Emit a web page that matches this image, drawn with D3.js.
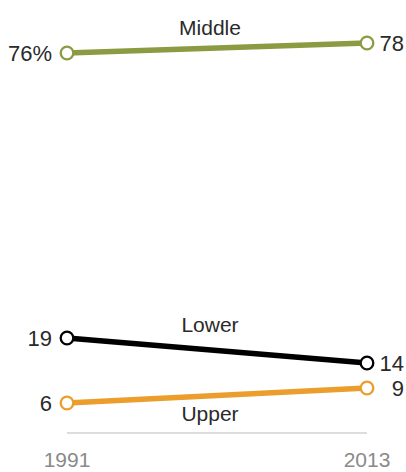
<!DOCTYPE html>
<html><head><meta charset="utf-8">
<script src="https://cdn.jsdelivr.net/npm/d3@7"></script>
<style>body{margin:0;background:#fff}svg{display:block}</style>
</head><body><svg id="c" width="406" height="472"></svg>
<script>
const years = ["1991", "2013"];
const seriesNames = ["Middle", "Lower", "Upper"];
const middle = [76, 78];
const lower = [19, 14];
const upper = [6, 9];
const leftLabels = ["76%", "19", "6"];
const rightLabels = ["78", "14", "9"];
const colors = ["#8b9b42", "#000000", "#eb9e2c"];

const FONT = "Liberation Sans, Arial, sans-serif";
const svg = d3.select("#c");
const x = d3.scalePoint().domain(years).range([67, 367]);
const y = d3.scaleLinear().domain([0, 78]).range([433, 43]);

// axis line
svg.append("line").attr("x1", x("1991")).attr("x2", x("2013")).attr("y1", y(0)).attr("y2", y(0))
  .attr("stroke", "#bbbbbb").attr("stroke-width", 1);
svg.selectAll("text.yr").data(years).enter().append("text")
  .attr("x", d => x(d)).attr("y", 467).attr("text-anchor", "middle")
  .attr("font-family", FONT).attr("font-size", 21)
  .attr("fill", "#8a8a8a").text(d => d);

const data = [middle, lower, upper];
const line = d3.line().x((d, i) => x(years[i])).y(d => y(d));
const nameY = [35, 332, 421];

data.forEach((vals, s) => {
  const g = svg.append("g");
  g.append("path").attr("d", line(vals)).attr("fill", "none")
    .attr("stroke", colors[s]).attr("stroke-width", 5.5);
  g.selectAll("circle").data(vals).enter().append("circle")
    .attr("cx", (d, i) => x(years[i])).attr("cy", d => y(d)).attr("r", 6.3)
    .attr("fill", "#fff").attr("stroke", colors[s]).attr("stroke-width", 2.3);
  g.append("text").attr("x", x("1991") - 15).attr("y", y(vals[0]) + 8)
    .attr("text-anchor", "end").attr("font-family", FONT)
    .attr("font-size", 22).attr("fill", "#2a2a2a").text(leftLabels[s]);
  g.append("text").attr("x", 404).attr("y", y(vals[1]) + 8)
    .attr("text-anchor", "end").attr("font-family", FONT)
    .attr("font-size", 22).attr("fill", "#2a2a2a").text(rightLabels[s]);
  g.append("text").attr("x", 210).attr("y", nameY[s])
    .attr("text-anchor", "middle").attr("font-family", FONT)
    .attr("font-size", 21).attr("fill", "#2a2a2a").text(seriesNames[s]);
});
</script></body></html>
